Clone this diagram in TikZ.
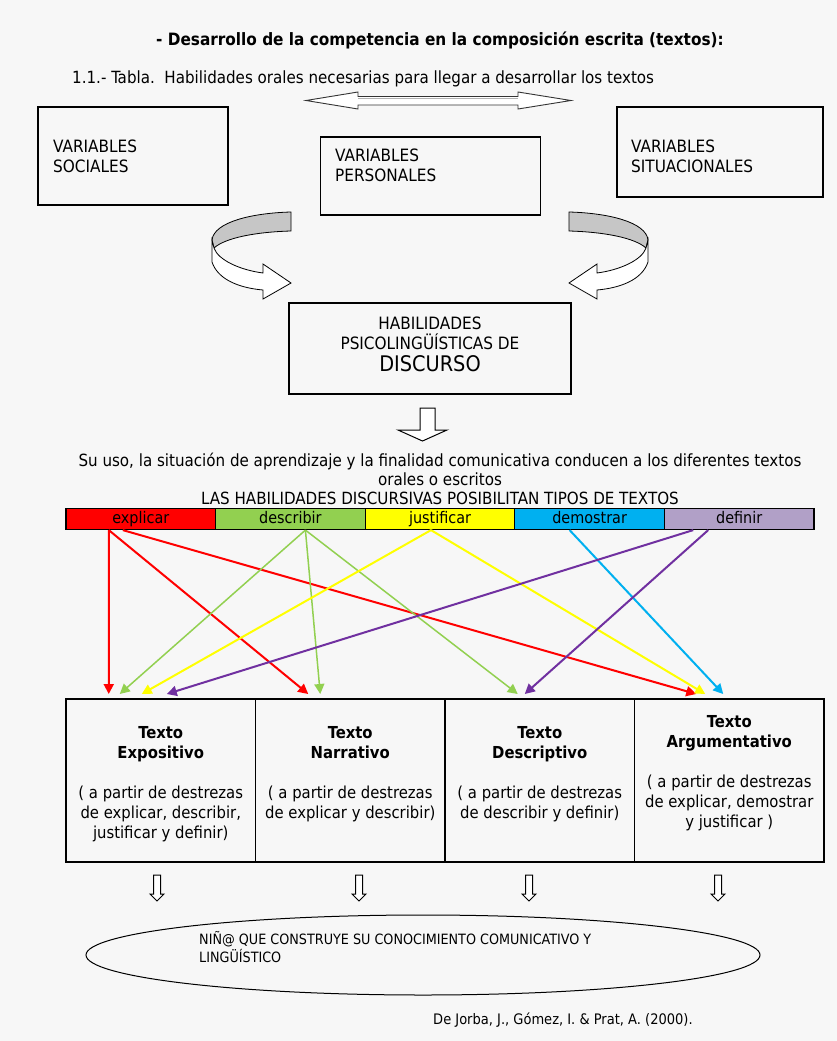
\documentclass[tikz,border=0pt]{standalone}
\usepackage{fontspec}
\setmainfont{DejaVu Sans Condensed}
\usetikzlibrary{shapes.geometric,arrows.meta}
\definecolor{bg}{HTML}{F7F7F7}
\definecolor{cRed}{HTML}{FF0000}
\definecolor{cGreen}{HTML}{92D050}
\definecolor{cYellow}{HTML}{FFFF00}
\definecolor{cBlue}{HTML}{00B0F0}
\definecolor{cLav}{HTML}{B1A0C7}
\definecolor{cPurple}{HTML}{7030A0}
\begin{document}
\begin{tikzpicture}[x=1pt,y=-1pt,
  box/.style={draw, line width=1.2pt, inner sep=0pt},
  lbl/.style={inner sep=0pt, font=\fontsize{16.8}{20}\selectfont},
  blbl/.style={inner sep=0pt, font=\fontsize{17}{20}\selectfont},
  cell/.style={draw, line width=1.2pt, minimum width=149.6pt, minimum height=21pt, inner sep=0pt, font=\fontsize{16}{16}\selectfont, text height=11pt, text depth=3pt},
  tcell/.style={draw, line width=1.2pt, minimum width=189.5pt, minimum height=163pt, inner sep=0pt},
  ttext/.style={inner sep=0pt, align=center, font=\fontsize{16.5}{20}\selectfont},
  carrow/.style={-{Triangle[length=10pt,width=10pt]}, line width=2pt},
  blk/.style={draw, fill=white, line width=1pt, line join=miter}]
\fill[bg] (0,0) rectangle (837,1041);
\useasboundingbox (0,0) rectangle (837,1041);

% titles
\node[lbl, anchor=base, font=\bfseries\fontsize{17}{20}\selectfont] (title) at (440,46) {- Desarrollo de la competencia en la composición escrita (textos):};
\node[lbl, anchor=base west] (sub) at (72,83) {1.1.- Tabla.\ \ Habilidades orales necesarias para llegar a desarrollar los textos};

% double arrow
\draw[fill=white, draw=gray!40!black, line width=0.9pt, line join=miter] (306,100.5) -- (358,92) -- (358,96.5) -- (518,96.5) -- (518,92) -- (571,100.5) -- (518,109) -- (518,105) -- (358,105) -- (358,109) -- cycle;
\draw[gray!60, line width=1pt] (358,98) -- (518,98);

% variable boxes
\node[box, minimum width=190pt, minimum height=98pt] (soc) at (133,156) {};
\node[blbl, anchor=base west, align=left] (socT) at (53,172) {VARIABLES\\SOCIALES};
\node[box, minimum width=220pt, minimum height=78pt] (per) at (430.5,176) {};
\node[blbl, anchor=base west, align=left] (perT) at (335,181) {VARIABLES\\PERSONALES};
\node[box, minimum width=206pt, minimum height=90pt] (sit) at (720,152) {};
\node[blbl, anchor=base west, align=left] (sitT) at (631,172) {VARIABLES\\SITUACIONALES};

% curved arrows
\begin{scope}[line width=0.8pt, line join=miter]
\draw[fill=gray!45] (291,212) .. controls (252,213) and (214,222) .. (212,240) -- (214,248) .. controls (225,238) and (255,232) .. (291,231) -- cycle;
\draw[fill=white] (212,240) -- (212,262) .. controls (218,280) and (240,288) .. (263,290) -- (263,299) -- (291,283) -- (263,264) -- (263,273) .. controls (240,270) and (218,260) .. (214,248) -- cycle;
\end{scope}
\begin{scope}[xshift=860pt, xscale=-1, line width=0.8pt, line join=miter]
\draw[fill=gray!45] (291,212) .. controls (252,213) and (214,222) .. (212,240) -- (214,248) .. controls (225,238) and (255,232) .. (291,231) -- cycle;
\draw[fill=white] (212,240) -- (212,262) .. controls (218,280) and (240,288) .. (263,290) -- (263,299) -- (291,283) -- (263,264) -- (263,273) .. controls (240,270) and (218,260) .. (214,248) -- cycle;
\end{scope}

% habilidades box
\node[box, minimum width=282pt, minimum height=91pt] (hab) at (430,348.5) {};
\node[blbl, anchor=base, align=center] (habT) at (430,349) {HABILIDADES\\PSICOLINGÜÍSTICAS DE};
\node[lbl, anchor=base, font=\fontsize{21.5}{22}\selectfont] (disc) at (430,371) {DISCURSO};

% down block arrow
\draw[blk] (420,408) -- (435,408) -- (435,430) -- (447,430) -- (422.5,441) -- (398,430) -- (420,430) -- cycle;

% texts
\node[lbl, anchor=base] (uso) at (440,466) {Su uso, la situación de aprendizaje y la finalidad comunicativa conducen a los diferentes textos};
\node[lbl, anchor=base] (oral) at (440,485) {orales o escritos};
\node[lbl, anchor=base] (las) at (440,504) {LAS HABILIDADES DISCURSIVAS POSIBILITAN TIPOS DE TEXTOS};

% color bar
\node[cell, fill=cRed] (expl) at (140.8,519) {explicar};
\node[cell, fill=cGreen] (desc) at (290.4,519) {describir};
\node[cell, fill=cYellow] (just) at (440,519) {justificar};
\node[cell, fill=cBlue] (demo) at (589.6,519) {demostrar};
\node[cell, fill=cLav] (defi) at (739.2,519) {definir};

% table
\node[tcell] (expo) at (160.75,780.5) {};
\node[tcell] (narr) at (350.25,780.5) {};
\node[tcell] (desr) at (539.75,780.5) {};
\node[tcell] (argu) at (729.25,780.5) {};
\node[ttext, anchor=base] (expoT) at (160.75,838) {\textbf{Texto}\\\textbf{Expositivo}\\[20pt]( a partir de destrezas\\de explicar, describir,\\justificar y definir)};
\node[ttext, anchor=base] (narrT) at (350.25,818) {\textbf{Texto}\\\textbf{Narrativo}\\[20pt]( a partir de destrezas\\de explicar y describir)};
\node[ttext, anchor=base] (desrT) at (539.75,818) {\textbf{Texto}\\\textbf{Descriptivo}\\[20pt]( a partir de destrezas\\de describir y definir)};
\node[ttext, anchor=base] (arguT) at (729.25,827) {\textbf{Texto}\\\textbf{Argumentativo}\\[20pt]( a partir de destrezas\\de explicar, demostrar\\y justificar )};

% colored arrows
\draw[carrow, cRed] ([xshift=-32pt]expl.south) -- ([xshift=-52pt]expo.north|-0,694);
\draw[carrow, cRed] ([xshift=-32pt]expl.south) -- ([xshift=-42pt]narr.north|-0,694);
\draw[carrow, cRed] ([xshift=-18pt]expl.south) -- ([xshift=-33pt]argu.north|-0,694);
\draw[carrow, cGreen, line width=1.5pt] ([xshift=15pt]desc.south) -- ([xshift=-41pt]expo.north|-0,694);
\draw[carrow, cGreen, line width=1.5pt] ([xshift=15pt]desc.south) -- ([xshift=-30pt]narr.north|-0,694);
\draw[carrow, cGreen, line width=1.5pt] ([xshift=15pt]desc.south) -- ([xshift=-22pt]desr.north|-0,694);
\draw[carrow, cYellow] ([xshift=-9pt]just.south) -- ([xshift=-19pt]expo.north|-0,694);
\draw[carrow, cYellow] ([xshift=-9pt]just.south) -- ([xshift=-24pt]argu.north|-0,694);
\draw[carrow, cBlue] ([xshift=-20pt]demo.south) -- ([xshift=-6pt]argu.north|-0,694);
\draw[carrow, cPurple] ([xshift=-46pt]defi.south) -- ([xshift=6pt]expo.north|-0,694);
\draw[carrow, cPurple] ([xshift=-31pt]defi.south) -- ([xshift=-15pt]desr.north|-0,694);

% down arrows
\foreach \c in {157,359,529,718}{
  \draw[blk] (\c-3.5,875) -- (\c+3.5,875) -- (\c+3.5,894) -- (\c+7,894) -- (\c,901) -- (\c-7,894) -- (\c-3.5,894) -- cycle;
}

% ellipse
\node[draw, ellipse, line width=1pt, minimum width=674pt, minimum height=80pt, inner sep=0pt] (nino) at (423,955) {};
\node[lbl, anchor=base west, align=left, font=\fontsize{14.2}{18}\selectfont] (ninoT) at (199,962) {NIÑ@ QUE CONSTRUYE SU CONOCIMIENTO COMUNICATIVO Y\\LINGÜÍSTICO};

\node[lbl, anchor=base west, font=\fontsize{14.5}{14}\selectfont] (cite) at (433,1024) {De Jorba, J., Gómez, I. \& Prat, A. (2000).};
\end{tikzpicture}
\end{document}
